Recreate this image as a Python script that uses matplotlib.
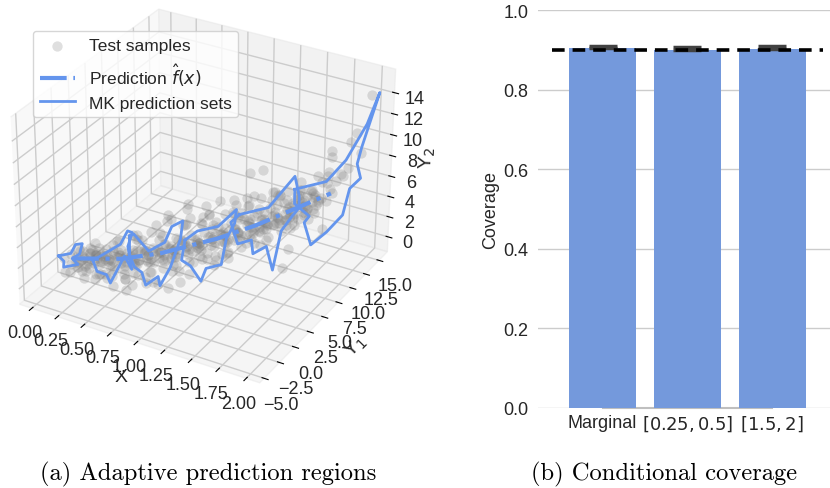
import numpy as np
import matplotlib
matplotlib.use('Agg')
import matplotlib.pyplot as plt

plt.rcParams['font.family'] = ['Liberation Sans', 'DejaVu Sans']
plt.rcParams['mathtext.fontset'] = 'dejavusans'
plt.rcParams['text.color'] = '.15'
plt.rcParams['axes.labelcolor'] = '.15'
plt.rcParams['xtick.labelcolor'] = '.15'
plt.rcParams['ytick.labelcolor'] = '.15'

# test samples
sample_x = [.00,.01,.02,.03,.04,.05,.06,.07,.08,.09,
            .10,.11,.12,.13,.14,.15,.16,.17,.18,.19,
            .20,.21,.22,.23,.24,.25,.26,.27,.28,.29,
            .30,.31,.32,.33,.34,.35,.36,.37,.38,.39,
            .40,.41,.42,.43,.44,.45,.46,.47,.48,.49,
            .50,.51,.52,.53,.54,.55,.56,.57,.58,.59,
            .60,.61,.62,.63,.64,.65,.66,.67,.68,.69,
            .70,.71,.72,.73,.74,.75,.76,.77,.78,.79,
            .80,.81,.82,.83,.84,.85,.86,.87,.88,.89,
            .90,.91,.92,.93,.94,.95,.96,.97,.98,.99,
            1.00,1.01,1.02,1.03,1.04,1.05,1.06,1.07,1.08,1.09,
            1.10,1.11,1.12,1.13,1.14,1.15,1.16,1.17,1.18,1.19,
            1.20,1.21,1.22,1.23,1.24,1.25,1.26,1.27,1.28,1.29,
            1.30,1.31,1.32,1.33,1.34,1.35,1.36,1.37,1.38,1.39,
            1.40,1.41,1.42,1.43,1.44,1.45,1.46,1.47,1.48,1.49,
            1.50,1.51,1.52,1.53,1.54,1.55,1.56,1.57,1.58,1.59,
            1.60,1.61,1.62,1.63,1.64,1.65,1.66,1.67,1.68,1.69,
            1.70,1.71,1.72,1.73,1.74,1.75,1.76,1.77,1.78,1.79,
            1.80,1.81,1.82,1.83,1.84,1.85,1.86,1.87,1.88,1.89,
            1.90,1.91,1.92,1.93,1.94,1.95,1.96,1.97,1.98,1.99,
            2.0,2.0,2.0,2.0,2.0,2.0,2.0,2.0,1.4,1.5,
            .9,.75,1.0,.1,.7,1.5,1.6,1.9]
sample_y = [.2,-1.0,.9,-.4,1.5,-1.5,.6,1.2,-.2,1.8,
            .3,1.4,-.6,2.0,.8,-.2,1.6,.5,2.4,1.1,
            1.0,2.2,.4,1.8,.9,2.8,.7,1.5,2.4,.6,
            2.0,.8,3.0,1.4,2.4,.9,2.7,1.6,3.4,1.2,
            2.2,1.0,3.2,1.8,2.9,3.6,1.4,2.4,3.1,1.9,
            2.5,1.5,3.3,2.2,3.7,1.8,2.9,4.0,2.1,3.2,
            2.4,3.8,1.9,3.1,4.2,2.6,3.4,2.0,4.4,3.0,
            3.0,4.5,2.2,3.6,4.8,2.7,3.9,2.4,4.2,3.2,
            3.4,4.9,2.6,3.8,5.0,3.0,4.3,5.3,3.5,2.9,
            3.8,5.2,3.2,4.4,5.6,3.6,4.8,3.0,5.0,4.1,
            4.4,5.6,3.4,4.9,6.0,3.9,5.2,4.2,6.2,5.0,
            4.7,6.0,3.8,5.4,6.4,4.4,5.7,4.0,6.6,5.2,
            5.0,6.4,4.2,5.8,6.8,4.6,6.0,5.2,7.0,4.8,
            5.4,6.8,4.6,6.2,7.2,5.0,6.4,5.8,7.4,5.2,
            5.6,7.0,4.9,6.4,7.6,5.2,6.8,6.0,7.8,5.5,
            6.0,7.5,5.1,6.8,8.0,5.6,7.2,6.4,8.2,5.9,
            6.4,7.8,5.6,7.2,8.4,6.0,7.6,6.8,8.6,6.2,
            6.8,8.2,6.0,7.6,8.8,6.4,8.0,7.2,9.0,6.6,
            7.2,8.6,6.4,8.0,9.4,6.8,8.4,7.6,9.6,7.0,
            7.8,9.2,6.8,8.6,10.0,7.4,9.0,8.2,10.4,8.0,
            14.8,12.3,11.4,13.3,8.0,8.0,9.7,11.0,5.4,5.7,
            4.1,3.4,5.3,2.3,4.1,9.4,8.5,8.6]
sample_z = [.6,.9,-.5,-.8,.3,-.1,1.0,-1.0,.2,.6,
            -.9,.4,.1,1.1,-.7,-1.1,.2,1.0,-.3,-1.3,
            .9,-.4,.3,-1.6,1.5,.2,-.9,1.2,-1.4,.6,
            1.4,-1.2,.4,-2.2,1.7,.7,-1.7,2.2,-.3,1.0,
            -1.8,1.6,.6,-2.5,2.4,-.5,1.1,-1.0,1.9,.2,
            2.4,-1.6,.9,3.0,-.4,1.8,-2.0,.4,2.7,-1.0,
            1.6,3.4,-.7,.2,2.2,-1.5,1.0,3.8,-.1,2.6,
            3.3,.1,-1.2,4.2,2.0,.9,-.8,2.8,1.4,4.8,
            .2,3.4,2.3,-.5,5.0,1.5,3.9,.8,2.9,-.9,
            4.4,1.4,2.9,.4,3.6,5.2,1.9,.1,4.0,2.7,
            1.2,4.6,3.0,.7,2.4,5.4,3.6,1.8,5.9,.3,
            4.4,2.2,6.0,3.2,.9,5.0,3.8,1.6,4.9,2.7,
            5.6,3.4,2.2,6.6,4.3,1.7,5.0,3.2,2.7,6.0,
            3.9,5.8,7.0,2.5,4.7,6.2,2.9,5.0,3.6,7.6,
            5.4,3.4,7.2,6.0,4.0,8.0,5.0,2.9,6.3,4.6,
            6.2,4.2,8.0,5.5,6.8,3.8,7.4,5.0,4.5,8.4,
            6.9,4.8,8.6,5.7,6.2,8.2,4.3,7.4,7.0,5.4,
            6.0,7.8,8.8,5.4,7.0,7.4,5.6,9.2,6.4,8.0,
            7.6,6.0,9.0,8.2,6.8,7.2,9.4,6.4,8.2,8.6,
            7.4,9.2,8.6,7.2,8.4,9.6,7.8,10.2,8.8,8.8,
            14.3,11.9,11.5,9.6,12.4,11.8,9.4,9.3,9.9,10.3,
            6.1,5.0,5.6,-2.8,-2.8,-1.1,1.6,4.4]

# the dense part of the cloud, close to the prediction
dense_x = [.05]*5+[.15]*5+[.25]*5+[.35]*5+[.45]*5+[.55]*5+[.65]*5+[.75]*5+[.85]*5+[.95]*5+\
          [1.05]*5+[1.15]*5+[1.25]*5+[1.35]*5+[1.45]*5+[1.55]*5+[1.65]*5+[1.75]*5+[1.85]*5
dense_y = [.2,1.0,-.5,.8,.3, .6,1.4,.2,1.2,1.7, 1.0,2.0,.6,1.6,2.3, 1.4,2.4,1.0,2.1,2.8,
           1.8,2.8,1.4,2.4,3.1, 2.2,3.2,1.8,2.8,3.5, 2.6,3.6,2.2,3.2,3.9, 3.0,4.0,2.6,3.6,4.3,
           3.4,4.4,3.0,4.0,4.7, 3.8,4.8,3.4,4.4,5.1, 4.2,5.2,3.8,4.8,5.5, 4.6,5.6,4.2,5.2,5.9,
           5.0,6.0,4.6,5.6,6.3, 5.4,6.4,5.0,6.0,6.7, 5.8,6.8,5.4,6.4,7.1, 6.2,7.2,5.8,6.8,7.5,
           6.6,7.6,6.2,7.2,7.9, 7.0,8.0,6.6,7.6,8.3, 7.4,8.4,7.0,8.0,8.7]
dense_z = [.4,-.3,.1,.7,-.6, .5,-.2,-.6,.9,.1, .9,-.3,-.8,.4,-1.0, 1.0,-.4,-1.0,.5,-1.3,
           1.2,-.3,-1.2,.6,-.7, 1.5,.1,-.7,1.0,.4, 1.9,.4,-.3,1.3,.8, 2.4,.8,.2,1.7,1.1,
           2.9,1.2,.6,2.2,1.6, 3.4,1.6,1.0,2.6,2.0, 3.8,2.0,1.4,3.0,2.4, 4.4,2.4,1.8,3.4,2.9,
           4.9,2.9,2.3,4.0,3.3, 5.4,3.4,2.9,4.5,3.9, 6.0,4.0,3.4,5.0,4.4, 6.6,4.6,4.0,5.6,5.0,
           7.2,5.3,4.7,6.3,5.7, 7.9,5.9,5.4,6.9,6.3, 8.5,6.6,6.0,7.6,7.0]

# darkest core of the cloud
core_x = [.1]*4+[.2]*4+[.3]*4+[.4]*4+[.5]*4+[.6]*4+[.7]*4+[.8]*4+[.9]*4+[1.0]*4+\
         [1.1]*4+[1.2]*4+[1.3]*4+[1.4]*4+[1.5]*4+[1.6]*4+[1.7]*4+[1.8]*4
core_y = [.4,1.3,.7,1.1, .8,1.7,1.1,1.5, 1.1,2.0,1.4,1.8, 1.5,2.4,1.8,2.2, 1.9,2.8,2.2,2.6,
          2.3,3.2,2.6,3.0, 2.7,3.6,3.0,3.4, 3.0,3.9,3.3,3.7, 3.4,4.3,3.7,4.1, 3.8,4.7,4.1,4.5,
          4.2,5.1,4.5,4.9, 4.6,5.5,4.9,5.3, 4.9,5.8,5.2,5.6, 5.3,6.2,5.6,6.0, 5.7,6.6,6.0,6.4,
          6.1,7.0,6.4,6.8, 6.5,7.4,6.8,7.2, 6.8,7.7,7.1,7.5]
core_z = [.6,-.4,.2,-.6, .8,-.3,.3,-.5, .9,-.2,.4,-.6, 1.0,-.2,.5,-.5, 1.3,.1,.7,-.2,
          1.6,.4,1.0,.1, 1.9,.8,1.4,.5, 2.3,1.1,1.8,.9, 2.8,1.6,2.2,1.3, 3.2,2.1,2.7,1.8,
          3.6,2.5,3.1,2.2, 4.1,2.9,3.5,2.7, 4.6,3.5,4.1,3.2, 5.2,4.0,4.6,3.8, 5.7,4.6,5.2,4.3,
          6.4,5.2,5.8,5.0, 7.0,5.9,6.5,5.6, 7.6,6.5,7.1,6.2]

# prediction f_hat(x)
pred_x = [0.0, .39, .70, 1.14, 1.44, 2.0]
pred_y = [.4, 1.88, 3.06, 4.73, 5.87, 8.0]
pred_z = [.02, .4, 1.28, 3.18, 4.8, 8.4]

# MK prediction sets, one closed contour per x
set_x = [0.0, .3, .65, 1.0, 1.5, 2.0]
set_y = [
    [-1.58,.24,.97,1.98,1.54,.41,1.25,-.9,-.83,-1.58],
    [-1.03,3.2,4.34,5.07,4.34,4.88,3.78,1.51,.95,-.46,-1.03],
    [-.93,-.25,2.0,4.54,5.68,7.49,7.08,5.39,3.69,3.42,1.44,.88,-.25,-.93,-.93],
    [1.93,3.92,7.31,10.41,10.12,8.71,7.86,5.32,4.47,2.78,1.37,1.93],
    [1.98,6.8,11.3,12.15,12.15,11.03,9.05,7.64,6.51,4.25,3.97,1.71,.58,1.98],
    [1.76,7.14,10.53,14.19,16.34,13.34,12.61,13.34,11.37,10.24,7.41,4.69,3.46,4.31,1.76,1.76],
]
set_z = [
    [1.36,.61,1.09,.63,-.16,.01,-1.05,-.13,.42,1.36],
    [1.55,.85,1.56,1.0,.01,-2.6,-.65,-2.1,-.95,.16,1.55],
    [4.96,4.78,1.91,1.4,2.35,1.95,.38,-1.57,-2.47,-1.39,-1.14,.43,1.6,3.15,4.96],
    [4.11,3.92,2.56,2.6,1.4,.59,-1.54,-.52,-1.33,1.14,2.47,4.11],
    [8.05,6.19,6.88,4.5,3.35,3.19,2.72,-.38,2.58,3.09,4.58,5.42,8.06,8.05],
    [11.99,9.96,10.26,11.87,13.82,10.08,8.86,7.12,7.13,5.17,5.03,5.27,8.03,8.18,10.67,11.99],
]

# coverage panel
cov_labels = ['Marginal', r'$[0.25, 0.5]$', r'$[1.5, 2]$']
cov_values = [.904, .900, .902]
cov_upper = [.910, .908, .909]
target = 0.9

blue = '#6495ED'
fig = plt.figure(figsize=(8.3, 4.89), dpi=100)

ax = fig.add_axes([-14.5/830, 79.5/489, 431/830, 431/489], projection='3d')
ax.computed_zorder = False
ax.view_init(elev=30, azim=-60)
ax.set_box_aspect((4, 4, 3.1))
ax.scatter(sample_x+dense_x+core_x, sample_y+dense_y+core_y, sample_z+dense_z+core_z, s=55,
           c='grey', alpha=.25, linewidths=0, depthshade=False, label='Test samples', zorder=1)
ax.plot(pred_x, pred_y, pred_z, color=blue, lw=3, ls='-.', label=r'Prediction $\hat{f}(x)$', zorder=3)
for i in range(len(set_x)):
    lab = 'MK prediction sets' if i == 0 else None
    ax.plot(np.full(len(set_y[i]), set_x[i]), set_y[i], set_z[i], color=blue, lw=2, label=lab, zorder=3)

ax.set_xlim(-.12, 2.12)
ax.set_ylim(-5.7, 16.6)
ax.set_zlim(-1.5, 16.2)
ax.set_xticks(np.arange(0, 2.01, .25))
ax.set_yticks(np.arange(-5, 15.1, 2.5))
ax.set_zticks(np.arange(0, 15, 2))
ax.set_xticklabels(['%.2f' % v for v in np.arange(0, 2.01, .25)])
ax.tick_params(labelsize=13, pad=0)
ax.tick_params(axis='y', pad=3)
ax.tick_params(axis='z', pad=1)
ax.set_xlabel('X', fontsize=14, labelpad=-4)
ax.set_ylabel('Y$_1$', fontsize=14, labelpad=-1)
ax.set_zlabel('Y$_2$', fontsize=14, labelpad=-5)
for a in (ax.xaxis, ax.yaxis, ax.zaxis):
    a.line.set_color((1, 1, 1, 0))
    a._axinfo['grid']['color'] = '.8'
    a._axinfo['grid']['linewidth'] = 1
    a.pane.set_edgecolor('.9')

fig.legend(*ax.get_legend_handles_labels(), loc='upper left', bbox_to_anchor=(33/830, 1-32/489),
           borderaxespad=0, fontsize=12.5, framealpha=.8, edgecolor='.8', labelspacing=.45)

ax2 = fig.add_axes([538/830, 1-409/489, 292/830, 398/489])
pos = np.arange(3)
ax2.bar(pos, cov_values, width=.79, color='#7499DC', zorder=2)
err = np.array(cov_upper) - np.array(cov_values)
ax2.errorbar(pos, cov_values, yerr=[err*0, err], fmt='none', ecolor='#424242', elinewidth=2,
             capsize=10, capthick=2.5, zorder=3)
ax2.plot([-.6, 2.6], [target, target], color='k', lw=2.6, ls=(0, (3.5, 2.2)), zorder=4)
ax2.plot([0, 2], [0, 0], color='.75', lw=1.5, zorder=1, clip_on=False)
ax2.set_xlim(-.76, 2.68)
ax2.set_ylim(0, 1)
ax2.set_yticks(np.arange(0, 1.01, .2))
ax2.set_xticks(pos)
ax2.set_xticklabels(cov_labels)
ax2.tick_params(length=0, labelsize=13)
ax2.tick_params(axis='x', pad=4)
ax2.tick_params(axis='y', pad=7)
ax2.grid(axis='y', color='.8', lw=1, zorder=0)
ax2.set_axisbelow(True)
for s in ax2.spines.values():
    s.set_visible(False)
ax2.set_ylabel('Coverage', fontsize=13, labelpad=3)

fig.text(208/830, 1-474/489, '(a) Adaptive prediction regions', family='cmr10', fontsize=17.7,
         color='k', ha='center', va='center')
fig.text(664/830, 1-474/489, '(b) Conditional coverage', family='cmr10', fontsize=17.7,
         color='k', ha='center', va='center')

fig.savefig('out.png', dpi=100)
